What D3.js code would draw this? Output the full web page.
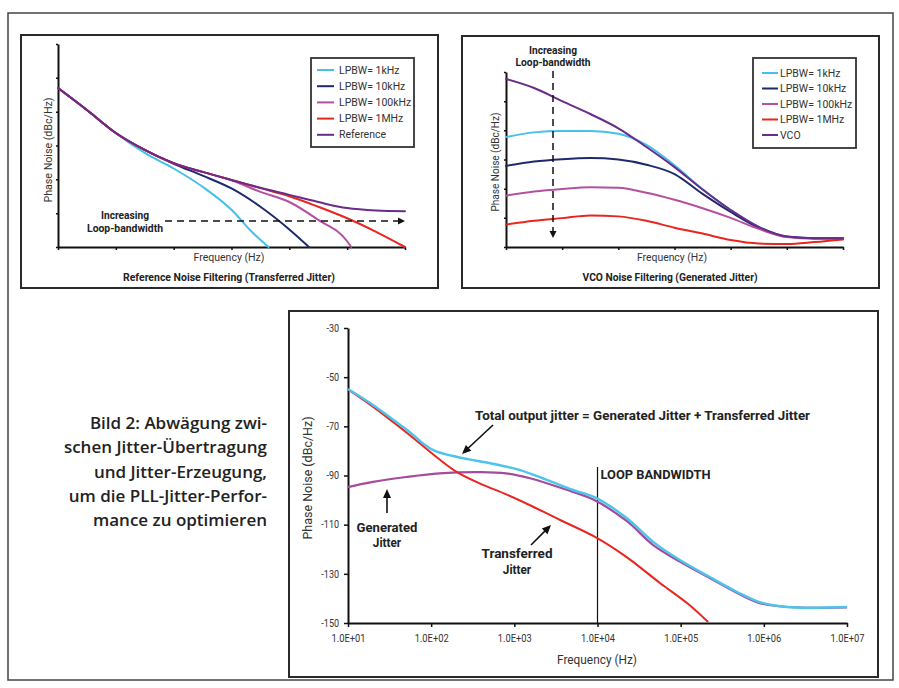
<!DOCTYPE html>
<html><head><meta charset="utf-8">
<script src="https://cdn.jsdelivr.net/npm/d3@7"></script>
<style>body{margin:0;background:#fff}svg{display:block}</style>
</head><body>
<script>
// ---------------- DATA ----------------
// small panels: x in decades (0..6), y in grid units (0..6), no tick labels
const panelTicks = [0, 1, 2, 3, 4, 5, 6];

// Reference Noise Filtering (Transferred Jitter)
const tlLabels = ["LPBW= 1kHz", "LPBW= 10kHz", "LPBW= 100kHz", "LPBW= 1MHz", "Reference"];
const tl1k = [[0,4.70],[0.5,4.05],[1,3.36],[1.5,2.78],[2,2.32],[2.5,1.78],[3,1.1],[3.35,0.45],[3.64,0]];
const tl10k = [[0,4.70],[0.5,4.05],[1,3.37],[1.5,2.87],[2,2.46],[2.5,2.11],[3,1.73],[3.5,1.19],[4,0.52],[4.34,0]];
const tl100k = [[0,4.70],[0.5,4.05],[1,3.37],[1.5,2.87],[2,2.48],[2.5,2.22],[3,1.97],[3.5,1.63],[4,1.33],[4.5,0.8],[5,0.17],[5.07,0]];
const tl1M = [[0,4.70],[0.5,4.05],[1,3.37],[1.5,2.87],[2,2.48],[2.5,2.22],[3,1.98],[3.5,1.74],[4,1.5],[4.5,1.19],[5,0.85],[5.5,0.45],[6,0]];
const tlRef = [[0,4.70],[0.5,4.05],[1,3.37],[1.5,2.87],[2,2.48],[2.5,2.22],[3,1.98],[3.5,1.75],[4,1.54],[4.5,1.33],[5,1.15],[5.5,1.08],[6,1.06]];

// VCO Noise Filtering (Generated Jitter)
const trLabels = ["LPBW= 1kHz", "LPBW= 10kHz", "LPBW= 100kHz", "LPBW= 1MHz", "VCO"];
const tr1k = [[0,3.77],[0.5,3.93],[1,3.98],[1.5,3.98],[2,3.88],[2.5,3.5],[3,2.8],[3.5,1.98],[4,1.27],[4.5,0.69],[5,0.36],[5.5,0.3],[6,0.3]];
const tr10k = [[0,2.78],[0.5,2.93],[1,3.01],[1.5,3.05],[2,3.0],[2.5,2.82],[3,2.5],[3.5,1.82],[4,1.2],[4.5,0.66],[5,0.35],[5.5,0.3],[6,0.3]];
const tr100k = [[0,1.76],[0.5,1.9],[1,1.99],[1.5,2.05],[2,2.03],[2.5,1.86],[3,1.62],[3.5,1.33],[4,1.0],[4.5,0.62],[5,0.34],[5.5,0.28],[6,0.3]];
const tr1M = [[0,0.77],[0.5,0.9],[1,0.99],[1.5,1.08],[2,1.05],[2.5,0.9],[3,0.66],[3.5,0.46],[4,0.24],[4.5,0.12],[5,0.1],[5.5,0.17],[6,0.26]];
const trVco = [[0,5.76],[0.5,5.45],[1,5.0],[1.5,4.56],[2,4.07],[2.5,3.43],[3,2.74],[3.5,1.97],[4,1.27],[4.5,0.69],[5,0.36],[5.5,0.3],[6,0.3]];

// Main chart: x = log10(frequency / Hz), y = phase noise dBc/Hz
const mainYTicks = [-30, -50, -70, -90, -110, -130, -150];
const mainXTicks = [1e1, 1e2, 1e3, 1e4, 1e5, 1e6, 1e7];
const mainXTickLabels = ["1.0E+01", "1.0E+02", "1.0E+03", "1.0E+04", "1.0E+05", "1.0E+06", "1.0E+07"];
const loopBandwidthHz = 1e4;
const generatedJitter = [[1,-94.7],[1.3,-92.6],[1.7,-90.6],[2.1,-89.1],[2.6,-88.6],[2.9,-89.1],[3.2,-91.2],[3.6,-95.5],[3.95,-99.8],[4.35,-108.5],[4.67,-118.3],[5,-125.2],[5.35,-131.7],[5.68,-137.8],[5.95,-141.9],[6.28,-143.5],[7,-143.7]];
const transferredJitter = [[1,-55],[1.3,-62],[1.71,-72.7],[2.11,-83.7],[2.31,-88.6],[2.59,-93.3],[2.91,-97.8],[3.22,-102.6],[3.55,-108.1],[3.97,-115],[4.35,-123.2],[4.75,-133.7],[5.08,-142],[5.33,-149.6]];
const totalJitter = [[1,-54.8],[1.3,-61.3],[1.71,-71.5],[2.02,-79.6],[2.38,-82.9],[2.71,-85],[3.07,-87.8],[3.39,-91.8],[3.71,-95.9],[3.97,-98.9],[4.35,-107.3],[4.67,-117],[4.99,-124.4],[5.35,-131.3],[5.68,-137.4],[5.95,-141.5],[6.28,-143.5],[7,-143.5]];

const captionLines = ["Bild 2: Abwägung zwi-", "schen Jitter-Übertragung", "und Jitter-Erzeugung,", "um die PLL-Jitter-Perfor-", "mance zu optimieren"];

// ---------------- STYLE ----------------
const seriesColors = ["#45c0ea", "#1f2a6c", "#b4509f", "#e8261f", "#6a2b8b"];
const FONT = "Roboto, 'DejaVu Sans', sans-serif";

const svg = d3.select("body").append("svg").attr("width", 899).attr("height", 688)
  .style("font-family", FONT);

// outer frame
svg.append("rect").attr("x", 8).attr("y", 13).attr("width", 885).attr("height", 667)
  .attr("fill", "none").attr("stroke", "#444").attr("stroke-width", 1.5);

function fit(sel, w) {
  if (w === undefined) w = sel.node().getComputedTextLength() * 0.87;
  sel.attr("textLength", w).attr("lengthAdjust", "spacingAndGlyphs");
  return sel;
}
function label(g, x, y, txt, size, bold, anchor, w, color) {
  const t = g.append("text").attr("x", x).attr("y", y).attr("dy", "0.35em")
    .attr("text-anchor", anchor || "middle").attr("font-size", size)
    .attr("font-weight", bold ? "bold" : "normal").attr("fill", color || (bold ? "#222" : "#333")).text(txt);
  if (w !== null) fit(t, w);
  return t;
}
function arrowHead(g, x1, y1, x2, y2, len, w) {
  const a = Math.atan2(y2 - y1, x2 - x1);
  const bx = x2 - len * Math.cos(a), by = y2 - len * Math.sin(a);
  const px = -Math.sin(a) * w / 2, py = Math.cos(a) * w / 2;
  g.append("path").attr("d", `M${x2},${y2}L${bx + px},${by + py}L${bx - px},${by - py}Z`).attr("fill", "#111");
}
function arrow(g, x1, y1, x2, y2, opts = {}) {
  const len = opts.len || 7, w = opts.w || 7;
  const a = Math.atan2(y2 - y1, x2 - x1);
  g.append("line").attr("x1", x1).attr("y1", y1)
    .attr("x2", x2 - (len - 1) * Math.cos(a)).attr("y2", y2 - (len - 1) * Math.sin(a))
    .attr("stroke", "#111").attr("stroke-width", opts.sw || 1.6)
    .attr("stroke-dasharray", opts.dash || null);
  arrowHead(g, x1, y1, x2, y2, len, w);
}

function panel(cfg) {
  const g = svg.append("g");
  g.append("rect").attr("x", cfg.box[0]).attr("y", cfg.box[1])
    .attr("width", cfg.box[2] - cfg.box[0]).attr("height", cfg.box[3] - cfg.box[1])
    .attr("fill", "#fff").attr("stroke", "#2a2a2a").attr("stroke-width", 2);
  const x = d3.scaleLinear().domain([0, 6]).range([cfg.plot[0], cfg.plot[2]]);
  const y = d3.scaleLinear().domain([0, 6]).range([cfg.plot[3], cfg.plot[1]]);
  const ax = g.append("g").attr("transform", `translate(0,${cfg.plot[3]})`)
    .call(d3.axisBottom(x).tickValues(panelTicks).tickSize(3).tickSizeOuter(0).tickFormat(""));
  const ay = g.append("g").attr("transform", `translate(${cfg.plot[0]},0)`)
    .call(d3.axisLeft(y).tickValues(panelTicks).tickSize(2).tickSizeOuter(0).tickFormat(""));
  [ax, ay].forEach(a => {
    a.select(".domain").attr("stroke", "#111").attr("stroke-width", 2);
    a.selectAll(".tick line").attr("stroke", "#111").attr("stroke-width", 1.5);
  });
  const line = d3.line().x(d => x(d[0])).y(d => y(d[1])).curve(d3.curveMonotoneX);
  cfg.series.forEach((s, i) => {
    g.append("path").attr("d", line(s)).attr("fill", "none")
      .attr("stroke", seriesColors[i]).attr("stroke-width", 2).attr("stroke-linecap", "round");
  });
  // legend
  const L = cfg.legend;
  g.append("rect").attr("x", L.box[0]).attr("y", L.box[1])
    .attr("width", L.box[2] - L.box[0]).attr("height", L.box[3] - L.box[1])
    .attr("fill", "#fff").attr("stroke", "#333").attr("stroke-width", 1.8);
  cfg.labels.forEach((t, i) => {
    const yy = L.y0 + i * L.dy;
    g.append("line").attr("x1", L.lx[0]).attr("x2", L.lx[1]).attr("y1", yy).attr("y2", yy)
      .attr("stroke", seriesColors[i]).attr("stroke-width", 2);
    label(g, L.tx, yy, t, 10.5, false, "start", null);
  });
  // axis titles
  label(g, cfg.fx, cfg.plot[3] + 10, "Frequency (Hz)", 11, false, "middle", cfg.fw);
  const yl = g.append("text").attr("transform", `translate(${cfg.yl[0]},${cfg.yl[1]}) rotate(-90)`)
    .attr("dy", "0.35em").attr("text-anchor", "middle").attr("font-size", 11).attr("fill", "#333")
    .text("Phase Noise (dBc/Hz)");
  fit(yl, cfg.yw);
  label(g, cfg.tx, 277, cfg.title, 10.5, true, "middle", cfg.tw);
  return { g, x, y };
}

// ---- top-left panel ----
const P1 = panel({
  box: [21, 35, 438, 288], plot: [58, 44, 405, 247],
  series: [tl1k, tl10k, tl100k, tl1M, tlRef], labels: tlLabels,
  legend: { box: [311, 58, 414, 147], y0: 70, dy: 16.2, lx: [317, 334], tx: 339 },
  fx: 229, fw: 71, yl: [48, 150], yw: 105, tx: 229, tw: 212,
  title: "Reference Noise Filtering (Transferred Jitter)"
});
label(P1.g, 125, 215, "Increasing", 10.5, true, "middle", 48);
label(P1.g, 125, 228, "Loop-bandwidth", 10.5, true, "middle", 76);
arrow(P1.g, 165, 221, 405, 221, { dash: "7,5", sw: 1.5, len: 7, w: 7 });

// ---- top-right panel ----
const P2 = panel({
  box: [462, 36, 879, 288], plot: [506, 72, 843, 247],
  series: [tr1k, tr10k, tr100k, tr1M, trVco], labels: trLabels,
  legend: { box: [753, 58, 856, 148], y0: 73, dy: 15.5, lx: [762, 778], tx: 780 },
  fx: 672, fw: 70, yl: [495, 162], yw: 99, tx: 670, tw: 175,
  title: "VCO Noise Filtering (Generated Jitter)"
});
label(P2.g, 553, 50, "Increasing", 10.5, true, "middle", 48);
label(P2.g, 553, 62, "Loop-bandwidth", 10.5, true, "middle", 75);
arrow(P2.g, 553, 71, 553, 238, { dash: "7,5", sw: 1.5, len: 7, w: 7 });

// ---- main chart ----
const M = { box: [289, 311, 878, 677], plot: [348, 328, 847, 623] };
const mg = svg.append("g");
mg.append("rect").attr("x", M.box[0]).attr("y", M.box[1])
  .attr("width", M.box[2] - M.box[0]).attr("height", M.box[3] - M.box[1])
  .attr("fill", "#fff").attr("stroke", "#2a2a2a").attr("stroke-width", 2);
const mx = d3.scaleLog().domain([1e1, 1e7]).range([M.plot[0], M.plot[2]]);
const my = d3.scaleLinear().domain([-150, -30]).range([M.plot[3], M.plot[1]]);
const mAx = mg.append("g").attr("transform", `translate(0,${M.plot[3]})`)
  .call(d3.axisBottom(mx).tickValues(mainXTicks).tickSize(4).tickPadding(8).tickSizeOuter(0)
    .tickFormat((d, i) => mainXTickLabels[i]));
const mAy = mg.append("g").attr("transform", `translate(${M.plot[0]},0)`)
  .call(d3.axisLeft(my).tickValues(mainYTicks).tickSize(4).tickPadding(5).tickSizeOuter(0)
    .tickFormat(d => String(d)));
[mAx, mAy].forEach(a => {
  a.select(".domain").attr("stroke", "#111").attr("stroke-width", 2);
  a.selectAll(".tick line").attr("stroke", "#111").attr("stroke-width", 1.5);
  a.selectAll(".tick text").attr("font-family", FONT).attr("font-size", 10).attr("fill", "#333");
});
mAx.selectAll(".tick text").each(function () { fit(d3.select(this), 34); });
mAy.selectAll(".tick text").each(function () {
  const s = d3.select(this); fit(s, this.getComputedTextLength() * 0.9);
});

// loop bandwidth marker
mg.append("line").attr("x1", mx(loopBandwidthHz)).attr("x2", mx(loopBandwidthHz))
  .attr("y1", 467).attr("y2", M.plot[3]).attr("stroke", "#111").attr("stroke-width", 1.2);
label(mg, mx(loopBandwidthHz) + 3, 474, "LOOP BANDWIDTH", 13, true, "start", 110);

const mline = d3.line().x(d => mx(Math.pow(10, d[0]))).y(d => my(d[1])).curve(d3.curveCatmullRom.alpha(0.5));
mg.append("path").attr("d", mline(generatedJitter)).attr("fill", "none").attr("stroke", "#a44b9c").attr("stroke-width", 2.2);
mg.append("path").attr("d", mline(transferredJitter)).attr("fill", "none").attr("stroke", "#e8261f").attr("stroke-width", 2);
mg.append("path").attr("d", mline(totalJitter)).attr("fill", "none").attr("stroke", "#4cc4ec").attr("stroke-width", 2.4);

// annotations
label(mg, 475, 415, "Total output jitter = Generated Jitter + Transferred Jitter", 13.5, true, "start", 335);
arrow(mg, 493, 425, 462, 454, { len: 9, w: 8 });
label(mg, 387, 527, "Generated", 13.5, true, "middle", 61);
label(mg, 387, 542, "Jitter", 13.5, true, "middle");
arrow(mg, 387, 513, 387, 489, { len: 9, w: 8 });
label(mg, 517, 553, "Transferred", 13.5, true, "middle", 71);
label(mg, 517, 569, "Jitter", 13.5, true, "middle");
arrow(mg, 531, 545, 551, 525, { len: 9, w: 8 });

label(mg, 597, 660, "Frequency (Hz)", 12, false, "middle", 80);
const myl = mg.append("text").attr("transform", "translate(308,478) rotate(-90)").attr("dy", "0.35em")
  .attr("text-anchor", "middle").attr("font-size", 12).attr("fill", "#333").text("Phase Noise (dBc/Hz)");
fit(myl, 123);

// caption
const cap = svg.append("g").style("font-family", "'Open Sans', sans-serif");
captionLines.forEach((t, i) => {
  cap.append("text").attr("x", 267).attr("y", 423 + i * 24.3).attr("dy", "0.35em")
    .attr("text-anchor", "end").attr("font-size", 17).attr("font-weight", 600).attr("fill", "#222").text(t);
});
</script>
</body></html>
